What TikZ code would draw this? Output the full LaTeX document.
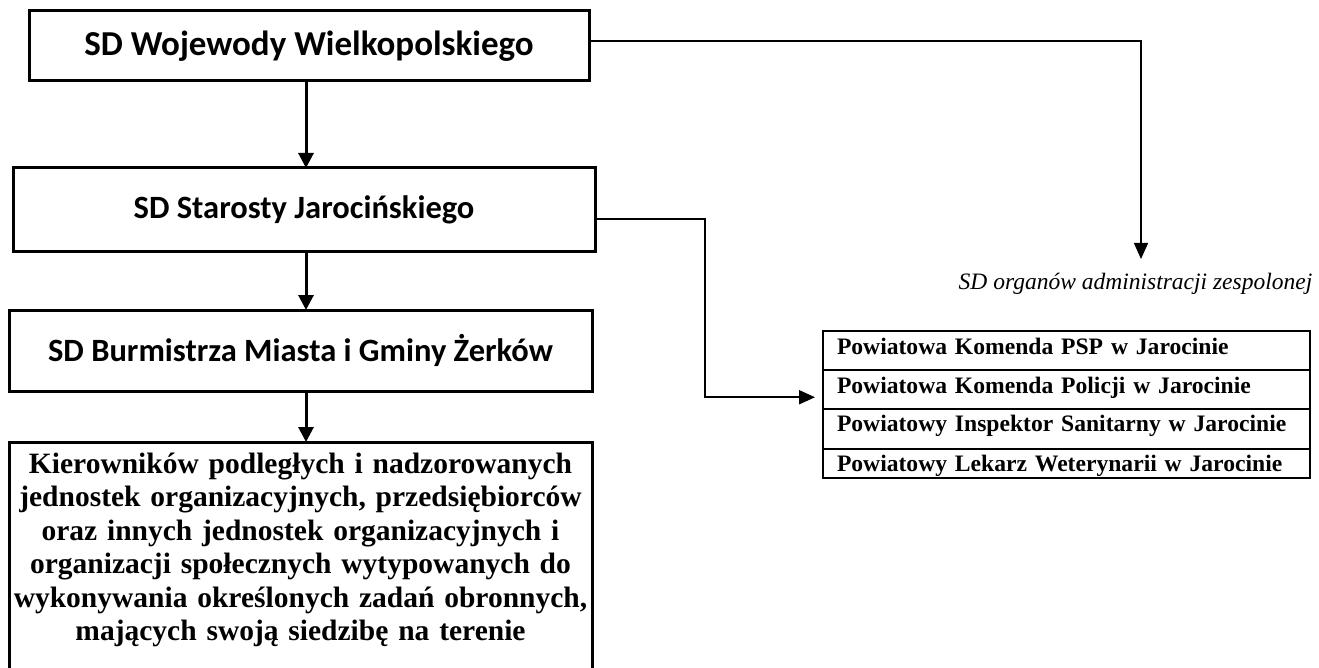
\documentclass[tikz,border=0pt]{standalone}
\usepackage{fontspec}
\setmainfont{Liberation Serif}
\newfontfamily\calibri{Carlito}
\usetikzlibrary{positioning, arrows.meta}

\tikzset{
  box/.style={draw, rectangle, line width=3pt, inner sep=0pt, outer sep=0pt, align=center},
  cell/.style={draw, rectangle, line width=2pt, outer sep=0pt, inner xsep=14pt, inner ysep=0pt, text width=459pt, align=left, text height=23pt, text depth=#1, font=\bfseries\fontsize{23.6}{28}\selectfont},
  arr/.style={line width=3pt, -{Triangle[length=15pt, width=15pt]}},
  branch/.style={line width=2pt, -{Triangle[length=16pt, width=14pt]}}
}

\begin{document}
\begin{tikzpicture}[x=1pt, y=-1pt]
                \useasboundingbox (0,0) rectangle (1319,668);
                \coordinate (trunk) at (306,0);

                \node[box, minimum width=560pt, minimum height=70pt, font=\calibri\bfseries\fontsize{35}{42}\selectfont] (W) at (309,46) {SD Wojewody Wielkopolskiego};
                \node[box, minimum width=582pt, minimum height=84pt, font=\calibri\bfseries\fontsize{32.5}{38}\selectfont] (S) at (304,210) {SD Starosty Jarocińskiego};
                \node[box, minimum width=583pt, minimum height=81pt, font=\calibri\bfseries\fontsize{32.5}{38}\selectfont] (B) at (300.5,350.5) {SD Burmistrza Miasta i Gminy Żerków};
                \node[box, anchor=north, minimum width=583pt, text width=583pt, text height=31pt, text depth=260pt, font=\bfseries\fontsize{29.5}{33.5}\selectfont] (K) at (300.5,442) {Kierowników podległych i nadzorowanych\\ jednostek organizacyjnych, przedsiębiorców\\ oraz innych jednostek organizacyjnych i\\ organizacji społecznych wytypowanych do\\ wykonywania określonych zadań obronnych,\\ mających swoją siedzibę na terenie};

                \node[anchor=base, font=\itshape\fontsize{23.5}{28}\selectfont] (L) at (1135.5,289) {SD organów administracji zespolonej};
                \coordinate (drop) at (1141,259);

                \node[cell=16pt, anchor=north] (R1) at (1066.5,331) {Powiatowa Komenda PSP w Jarocinie};
                \node[cell=15.5pt, below=0pt of R1] (R2) {Powiatowa Komenda Policji w Jarocinie};
                \node[cell=17pt, below=0pt of R2] (R3) {Powiatowy Inspektor Sanitarny w Jarocinie};
                \node[cell=6pt, below=0pt of R3] (R4) {Powiatowy Lekarz Weterynarii w Jarocinie};

                \draw[arr] (W.south -| trunk) -- (S.north -| trunk);
                \draw[arr] (S.south -| trunk) -- (B.north -| trunk);
                \draw[arr] (B.south -| trunk) -- (K.north -| trunk);
                \draw[line width=1.5pt, -{Triangle[length=16pt, width=14pt]}] ([yshift=5pt]W.east) -| (drop);
                \draw[branch, shorten >=8pt] ([yshift=-9pt]S.east) -- ++(110,0) |- ([yshift=-8pt]R2.west);
            \end{tikzpicture}
\end{document}
